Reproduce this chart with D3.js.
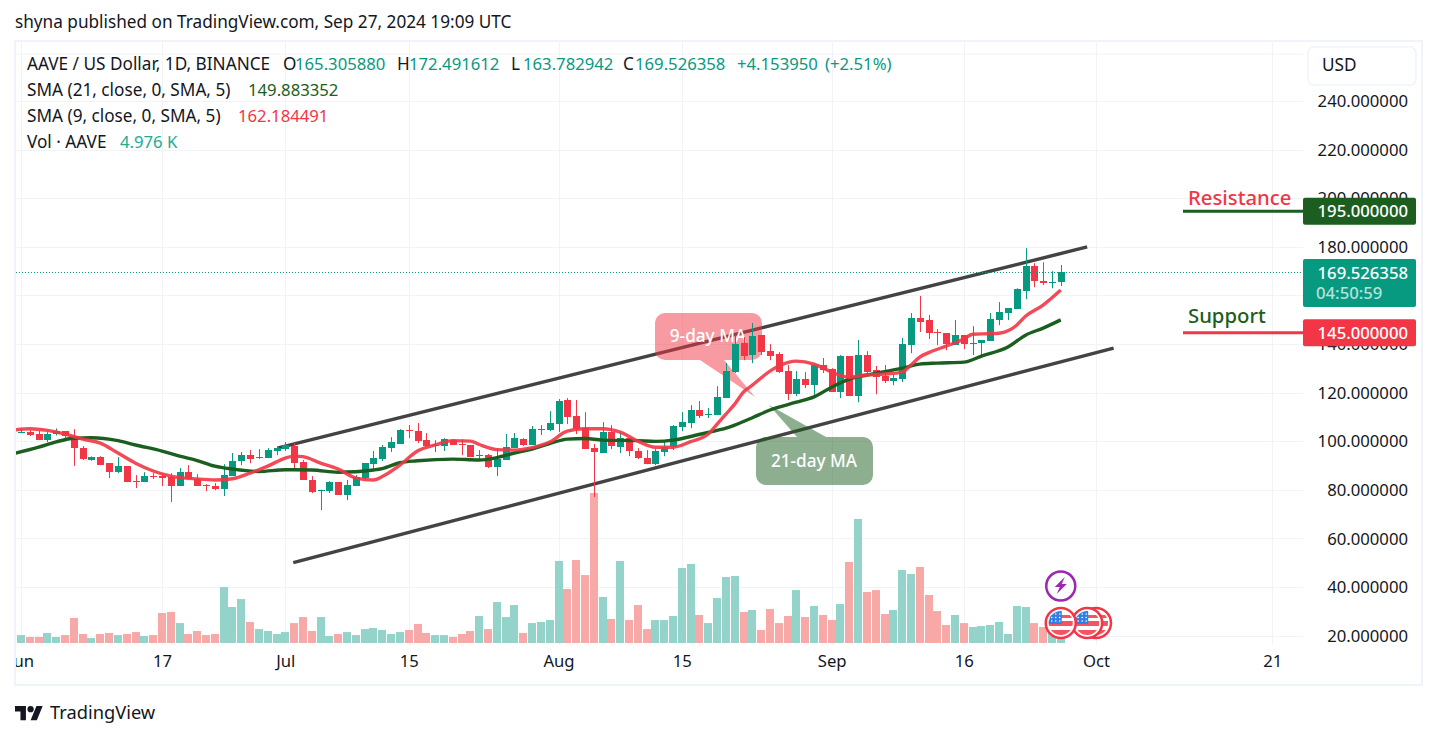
<!DOCTYPE html>
<html><head><meta charset="utf-8">
<style>html,body{margin:0;padding:0;background:#fff;overflow:hidden}svg{display:block}text{font-family:"Noto Sans",sans-serif;fill:#131722}</style>
<script src="https://cdn.jsdelivr.net/npm/d3@7/dist/d3.min.js"></script>
</head><body><svg id="c" width="1437" height="738"></svg>
<script>
// ---- data ----
const opens=[103.5,103.6,102.9,100.4,102.9,104.1,102.2,97.1,92.2,93.4,90.9,87.2,89.7,83.5,83.1,85.6,85.6,85.2,81.5,87.2,84.4,81.9,81.5,80.2,85.6,91.8,94.2,92.9,93,95.9,96.7,97.9,91.4,84,79.5,79.4,83.1,77.8,81.5,84.8,90.5,92.6,97.1,98.8,104.5,104.1,100.4,97.9,97.9,100.4,98.8,98.4,93.8,94.2,89.3,92.2,97.1,100.8,98.4,104.5,104.5,107,116.9,110.3,105.3,97.1,95.1,103.7,97.5,101.2,95.9,93,90.5,95.5,97.5,105.8,107.4,112.8,110.7,110.7,117.7,128.4,140.3,135.4,143.6,137,135.8,128.8,119.3,125.5,123,131.3,129.6,120.2,135,118.5,135.4,129.2,126.7,124.8,125.5,139.5,150.6,149.8,144.9,144.4,139.5,143.6,139.9,140.3,141.2,149.8,152.7,154.3,161.7,172,165.8,165,165.305880];
const highs=[105.2,104.5,104.2,103.7,105.2,104.1,104.9,97.9,93.7,93.8,90.9,93.4,89.7,86,87.2,86.8,86.8,86.8,88.9,90.1,86.4,82.3,82.7,90.5,95.1,95.5,96.3,96.7,97.1,97.9,99.6,99.2,92.2,85.6,80,83.5,83.1,84,86,90.9,95.9,98.4,101.6,104.9,106.6,107.4,103.3,100.4,101.2,100.8,100.8,98.4,96.3,94.7,97.1,102.9,103.3,101.2,106.2,106.6,112.3,117.3,117.7,116.9,111.9,98.8,107.8,106.6,103.7,101.2,97.1,96.3,96.7,100,106.6,111.9,114.8,116.5,113.6,122.6,132.1,143.6,142.8,148.6,143.6,139.9,136.6,131.3,128.8,128.4,131.7,134.2,130,135.4,135,141.6,137,130.9,131.3,127.6,142.4,152.7,159.7,151.9,146.1,144.4,149.8,143.6,147.3,141.6,152.7,157.2,154.7,162.9,179.4,173.2,173.6,169.9,172.491612];
const lows=[103.4,102.1,100.4,99.6,102.3,101.2,89.8,92.2,91.9,90.1,84.8,86.8,83.1,80.7,83.1,84.4,81.5,74.9,81.5,84.4,81.5,79.4,79.8,77.4,85.6,90.1,90.9,92.6,93,94.2,95.9,88.5,84,78.6,71.6,78.6,77.8,75.7,81.5,84,88.1,91.8,95.5,98.8,101.2,99.2,97.5,95.5,95.9,98.4,94.2,93.4,91.8,88.9,85.6,92.2,97.1,97.9,98.4,102.5,104.1,103.7,107,102.9,96.7,77,95.1,96.7,95.1,93.8,92.6,90.5,90.1,93.8,96.3,104.1,105.3,109.5,109.5,110.7,117.7,128,133.3,132.1,135.4,133.3,128,116.9,118.5,121.8,118.1,128,120.2,117.7,118.5,116,128,119.3,123.9,123,124.3,136.2,144.9,142,139.5,137.4,139.5,137.9,135.4,134.2,141.2,147.7,149.8,154.3,158.4,163.3,164.2,162.9,163.782942];
const closes=[103.8,102.5,100.4,102.9,104.1,102.2,97.1,92.6,93.4,90.1,87.2,89.7,83.1,83.1,85.6,85.2,84.8,81.5,87.2,84.4,81.5,81.6,80.2,86,91.8,94.2,92.6,93.4,96.3,97.1,98.4,90.9,84,79,79.9,83.1,77.8,81.9,85.2,90.9,93,97.5,99.6,104.5,104.2,100,97.9,98.4,100.8,98.4,98.2,93.4,94.2,89.3,92.6,97.5,101.2,98.4,104.9,104.9,107.4,116.5,109.9,104.9,96.7,95.5,103.7,97.9,101.2,95.9,93,90.5,95.9,97.5,106.2,107.8,112.8,110.3,111.1,118.1,128.8,139.9,135,143.2,136.6,135,128.4,119.3,125.5,123,131.3,129.2,120.2,135,118.5,135.4,128.4,126.3,124.7,125.9,139.9,150.6,149,144.4,144.4,139.9,143.6,139.9,140.3,141.6,150.2,153.1,154.7,162.5,172,165.8,165,165.3,169.526358];
const volumesK=[11.3,5.3,4,4,6.7,4,5.3,16.7,6,3.3,6,6.7,5.3,6,7.3,4.7,5.3,20,20.7,13.3,6,8,5.3,6,37.3,24,29.3,14,9.3,8,6,7.3,13.3,17.3,8,17.3,4.7,6,7.3,5.3,9.3,10,8.7,6,7.3,8.7,12.7,6.7,5.3,5.3,4,6,8,18,9.3,27.3,17.3,25.3,6.7,13.3,14,15.3,54.7,36,55.3,45.3,100,30.7,16,54.7,15.3,25.3,9.3,15.3,15.3,18,50,52.7,18.7,13.3,30,44,44.7,20.7,22,8.7,22.7,13.3,18,35.3,17.3,24.7,18.7,15.3,26,54,82.7,34,35.3,19.3,22,48.7,46,50.7,32,21.3,12,18.7,13.3,10.7,11.3,12,14,6,24.7,24,13.3,10.7,6.7,4.976];
const volumeFirstDay=-1;
const sma9Days=[-1,1,3,5,7,9,11,13,15,17,20,22,24,26,28,30,31,32,34,36,38,40,41,43,45,47,49,51,52,54,56,58,60,62,64,66,68,70,72,74,76,78,79,80,81,82,83,85,86,88,90,92,94,96,98,100,101,102,103,105,107,108,110,111,113,114,116,118];
const sma9Values=[104.5,105.1,104.4,102.9,100.8,99.2,95.1,90.9,87.7,85.6,84.4,84,84.5,86.8,89.7,93,93.8,93.6,90.9,88.5,84.8,84,85.4,90.1,95.9,98.4,100.2,100,98.6,96.5,96.3,97.3,99.6,104.1,105.1,105.1,103.7,100,97.5,97.5,99.8,102.9,107,111.1,115.2,120.2,123,128.8,130.9,132.9,131.7,128.4,126.3,127.2,127.6,128.4,131.3,134.6,136.4,139.1,142,144,144.2,144.4,147.7,151.4,156,162.184491];
const sma21Days=[-1,2,4,6,8,11,13,16,18,20,22,24,27,30,33,36,38,40,41,43,45,49,52,54,56,58,60,62,64,66,70,72,74,76,78,80,81,83,85,88,90,92,94,96,100,102,104,107,109,112,114,116,118];
const sma21Values=[94.7,97.5,99.7,101.2,101.4,100.2,98.4,95.9,93.8,92,89.7,88.5,87.5,88.2,88.1,87.2,87.4,88.1,88.7,91.1,91.9,92.6,92.2,93.2,95.1,96.7,99,100.8,101.1,100.4,100.2,99.9,100.4,101.9,103.6,105.3,106.6,109.6,112.8,116,118.2,122.2,125.5,127.2,130,131.7,132.1,132.5,135,138.7,143.6,146.5,149.883352];
const upperChannelDays=[29.2,121],upperChannelPrices=[97.2,179.9];
const lowerChannelDays=[30.9,124],lowerChannelPrices=[50,138.3];
const priceTicks=[20,40,60,80,100,120,140,160,180,200,220,240];
const timeTickDays=[0,16,30,44,61,75,92,107,122,142];
const timeTickLabels=["Jun","17","Jul","15","Aug","15","Sep","16","Oct","21"];
const resistance=195,support=145,lastClose=169.526358;
const eventDays=[118,121,122];

// ---- layout ----
const UP="#089981",DOWN="#F23645",DG="#1B5E20",GRID="#f2f3f6",BORDER="#f0f3fa";
const NUM=16.7,WORD=17.2;
const L=16,R=1303,T=42,B=643;
const x=d3.scaleLinear().domain([0,122]).range([21,1096]);
const y=d3.scaleLinear().domain([20,240]).range([635.5,100.9]);
const yV=d3.scaleLinear().domain([0,100]).range([643,493]);
const svg=d3.select("#c");
svg.append("defs").append("clipPath").attr("id","pc").append("rect").attr("x",L).attr("y",T).attr("width",R-L).attr("height",B-T+2);
svg.append("text").attr("x",15).attr("y",28).attr("font-size",WORD).text("shyna published on TradingView.com, Sep 27, 2024 19:09 UTC");
svg.append("rect").attr("x",15).attr("y",41).attr("width",1407).attr("height",644).attr("fill","none").attr("stroke",BORDER).attr("stroke-width",2);

// grid
const pg=svg.append("g").attr("clip-path","url(#pc)");
pg.selectAll(".h").data(priceTicks).join("line").attr("x1",L).attr("x2",R).attr("y1",d=>Math.round(y(d))+.5).attr("y2",d=>Math.round(y(d))+.5).attr("stroke",GRID);
pg.selectAll(".v").data(timeTickDays).join("line").attr("x1",d=>Math.round(x(d))+.5).attr("x2",d=>Math.round(x(d))+.5).attr("y1",T).attr("y2",B+2).attr("stroke",GRID);
pg.append("line").attr("x1",L).attr("x2",R).attr("y1",54).attr("y2",54).attr("stroke",GRID);

// channel
const lineFn=d3.line().x(d=>x(d[0])).y(d=>y(d[1]));
[[upperChannelDays,upperChannelPrices],[lowerChannelDays,lowerChannelPrices]].forEach(([a,b])=>{
  pg.append("path").attr("d",lineFn(d3.zip(a,b))).attr("stroke","#434343").attr("stroke-width",3.4).attr("fill","none");
});

// callouts
const pinkG=pg.append("g");
pinkG.append("path").attr("d","M665,313H752a10,10 0 0 1 10,10v27a10,10 0 0 1 -10,10H724L755,397L700,360H665a10,10 0 0 1 -10,-10v-27a10,10 0 0 1 10,-10z").attr("fill","rgba(242,54,69,.5)");
pinkG.append("text").attr("x",708).attr("y",342).attr("text-anchor","middle").attr("font-size",WORD).attr("font-weight",500).style("fill","#fff").text("9-day MA");
const greenG=pg.append("g");
greenG.append("path").attr("d","M766,437H797L769,405L826,437H863a10,10 0 0 1 10,10v28a10,10 0 0 1 -10,10H766a10,10 0 0 1 -10,-10v-28a10,10 0 0 1 10,-10z").attr("fill","rgba(27,94,32,.5)");
greenG.append("text").attr("x",814).attr("y",467).attr("text-anchor","middle").attr("font-size",WORD).attr("font-weight",500).style("fill","#fff").text("21-day MA");

// volume
pg.append("g").selectAll("rect").data(volumesK).join("rect")
  .attr("x",(d,i)=>Math.round(x(i+volumeFirstDay))-4).attr("width",8)
  .attr("y",d=>yV(d)).attr("height",d=>643-yV(d))
  .attr("fill",(d,i)=>{const k=i+volumeFirstDay;return (k<0||closes[k]>=opens[k])?"#94d3ca":"#f7a9a7";});

// candles
const cg=pg.append("g");
opens.forEach((o,i)=>{
  const c=closes[i],col=c>=o?UP:DOWN,cx=Math.round(x(i));
  cg.append("line").attr("x1",cx+.5).attr("x2",cx+.5).attr("y1",y(highs[i])).attr("y2",y(lows[i])).attr("stroke",col);
  const top=y(Math.max(o,c)),bot=y(Math.min(o,c));
  cg.append("rect").attr("x",cx-3).attr("width",7).attr("y",Math.round(top)).attr("height",Math.max(1,Math.round(bot-top))).attr("fill",col);
});

// SMA lines
const smooth=d3.line().x(d=>x(d[0])).y(d=>y(d[1])).curve(d3.curveMonotoneX);
pg.append("path").attr("d",smooth(d3.zip(sma21Days,sma21Values))).attr("fill","none").attr("stroke",DG).attr("stroke-width",3.4);
pg.append("path").attr("d",smooth(d3.zip(sma9Days,sma9Values))).attr("fill","none").attr("stroke",DOWN).attr("stroke-width",3.4).attr("opacity",.9);

// last price line
svg.append("line").attr("x1",L).attr("x2",R).attr("y1",Math.round(y(lastClose))+.5).attr("y2",Math.round(y(lastClose))+.5).attr("stroke",UP).attr("stroke-dasharray","1 2");

// events
const evG=svg.append("g");
const defs=svg.select("defs");
eventDays.slice().reverse().forEach((d,n)=>{
  const cx=x(d),cy=623,id="fl"+n;
  defs.append("clipPath").attr("id",id).append("circle").attr("cx",cx).attr("cy",cy).attr("r",12);
  const g=evG.append("g");
  g.append("circle").attr("cx",cx).attr("cy",cy).attr("r",15).attr("fill","#fff").attr("stroke",DOWN).attr("stroke-width",2.5);
  const f=g.append("g").attr("clip-path",`url(#${id})`);
  f.append("rect").attr("x",cx-13).attr("y",cy-2).attr("width",26).attr("height",5).attr("fill",DOWN).attr("opacity",.85);
  f.append("rect").attr("x",cx-13).attr("y",cy+7).attr("width",26).attr("height",6).attr("fill",DOWN).attr("opacity",.85);
  f.append("rect").attr("x",cx-13).attr("y",cy-8).attr("width",26).attr("height",3).attr("fill",DOWN).attr("opacity",.85);
  f.append("rect").attr("x",cx-13).attr("y",cy-13).attr("width",14).attr("height",14).attr("fill","#2f7fe6");
  for(let a=0;a<3;a++)for(let b=0;b<3;b++)f.append("circle").attr("cx",cx-9+b*4).attr("cy",cy-9+a*3.5).attr("r",.8).attr("fill","#fff");
});
const px=x(118),py=586;
evG.append("circle").attr("cx",px).attr("cy",py).attr("r",14.5).attr("fill","#fff").attr("stroke","#9c27b0").attr("stroke-width",2.5);
evG.append("path").attr("transform",`translate(${px},${py})`).attr("d","M4,-9L-6,1H-1L-4,8L6,-2H1Z").attr("fill","#9c27b0");

// legend
function row(yy,parts){parts.forEach(p=>{svg.append("text").attr("x",p[0]).attr("y",yy).attr("font-size",p[2]?NUM:WORD).style("fill",p[2]||"#131722").text(p[1]);});}
const TL="#089981";
row(69.5,[[27,"AAVE / US Dollar, 1D, BINANCE"],[283,"O"],[295,"165.305880",TL],[397,"H"],[409,"172.491612",TL],[511,"L"],[523,"163.782942",TL],[623,"C"],[635,"169.526358",TL],[737,"+4.153950",TL],[825,"(+2.51%)",TL]]);
row(95.5,[[27,"SMA (21, close, 0, SMA, 5)"],[248,"149.883352",DG]]);
row(121.5,[[27,"SMA (9, close, 0, SMA, 5)"],[238,"162.184491",DOWN]]);
row(147.5,[[27,"Vol · AAVE"],[120,"4.976 K","#22ab94"]]);

// axes
const yAxis=d3.axisRight(y).tickValues(priceTicks).tickFormat(d3.format(".6f")).tickSize(0).tickPadding(0);
const ya=svg.append("g").attr("transform","translate(1408,0.5)").call(yAxis);
ya.select(".domain").remove();
ya.selectAll("text").attr("text-anchor","end").attr("x",0).attr("font-size",NUM).attr("font-family",null).style("fill","#131722");
const xAxis=d3.axisBottom(x).tickValues(timeTickDays).tickFormat((d,i)=>timeTickLabels[i]).tickSize(0).tickPadding(0);
svg.select("defs").append("clipPath").attr("id","tc").append("rect").attr("x",L).attr("y",645).attr("width",R-L).attr("height",39);
const xa=svg.append("g").attr("clip-path","url(#tc)").append("g").attr("transform","translate(0,655)").call(xAxis);
xa.select(".domain").remove();
xa.selectAll("text").attr("font-size",NUM).style("fill","#131722");

// USD button
svg.append("rect").attr("x",1308).attr("y",47).attr("width",108).attr("height",38).attr("rx",6).attr("fill","#fff").attr("stroke",BORDER).attr("stroke-width",1.5);
svg.append("text").attr("x",1322).attr("y",71).attr("font-size",WORD).text("USD");

// level tags
function level(v,color,label,lblColor,ty){
  const yy=y(v);
  svg.append("line").attr("x1",1183).attr("x2",R).attr("y1",yy+1).attr("y2",yy+1).attr("stroke",lblColor==DOWN?DG:DOWN).attr("stroke-width",3);
  svg.append("text").attr("x",1188).attr("y",ty).attr("font-size",20.3).attr("font-weight",500).style("fill",lblColor).text(label);
  svg.append("rect").attr("x",R).attr("y",yy-12.5).attr("width",113).attr("height",27).attr("rx",2).attr("fill",color);
  svg.append("text").attr("x",1408).attr("y",yy+7).attr("text-anchor","end").attr("font-size",NUM).attr("font-weight",500).style("fill","#fff").text(d3.format(".6f")(v));
}
level(resistance,DG,"Resistance",DOWN,205);
level(support,DOWN,"Support",DG,323);
svg.append("rect").attr("x",R).attr("y",259).attr("width",113).attr("height",48).attr("rx",2).attr("fill",UP);
svg.append("text").attr("x",1408).attr("y",279).attr("text-anchor","end").attr("font-size",NUM).attr("font-weight",500).style("fill","#fff").text(d3.format(".6f")(lastClose));
svg.append("text").attr("x",1316).attr("y",299).attr("font-size",NUM).attr("font-weight",500).style("fill","#b5e1da").text("04:50:59");

// logo
const lg=svg.append("g").attr("transform","translate(15,703) scale(.78)").attr("fill","#131722");
lg.append("path").attr("d","M14 22H7V11H0V4h14v18zM28 22h-8l7.5-18h8L28 22z");
lg.append("circle").attr("cx",20).attr("cy",8).attr("r",4);
svg.append("text").attr("x",50).attr("y",719).attr("font-size",18.3).text("TradingView");
</script></body></html>
